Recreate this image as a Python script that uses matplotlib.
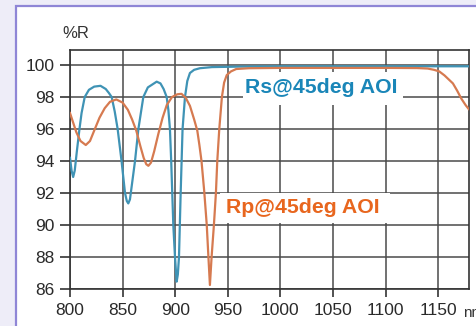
import matplotlib
matplotlib.use("Agg")
import matplotlib.pyplot as plt
from matplotlib.patches import Rectangle

plt.rcParams['font.family'] = ['Liberation Sans', 'DejaVu Sans']

# Rs @ 45 deg AOI (blue)
rs_nm = [800, 801.5, 803, 804.5, 806.5, 809, 811, 814, 818, 823, 829, 834, 837,
         839.6, 842.5, 845.3, 849, 852.3, 854, 855.4, 857, 859, 861.8, 865, 869.7,
         874, 882.4, 886, 889, 891.9, 893.5, 895, 896.2, 897.2, 898.2, 899.8,
         901.4, 902.5, 903.6, 905.2, 907, 909.3, 911.5, 914, 918, 923.5, 935, 960,
         1000, 1179]
rs_val = [94.2, 93.4, 93.0, 93.4, 94.6, 96.0, 97.0, 98.0, 98.45, 98.65, 98.7, 98.5,
          98.25, 98.0, 97.1, 96.0, 94.0, 92.0, 91.5, 91.35, 91.6, 92.6, 94.0, 96.0,
          98.0, 98.6, 98.96, 98.85, 98.5, 98.0, 97.2, 96.0, 94.0, 92.0, 90.0, 88.0,
          86.46, 86.9, 88.0, 92.0, 96.0, 98.0, 99.0, 99.5, 99.7, 99.8, 99.87, 99.9,
          99.92, 99.92]

# Rp @ 45 deg AOI (orange)
rp_nm = [800, 803, 806, 810, 815, 819, 823, 828, 833, 838, 844, 850, 855, 859,
         863, 867, 870, 872.5, 874.5, 877, 880, 884, 888, 892, 897, 902, 906, 910,
         914, 918, 921, 923, 925, 927.6, 930, 931.5, 933, 934.6, 936.8, 938.7, 940,
         941.9, 944.4, 946.5, 949, 953, 958, 970, 1000, 1100, 1130, 1140, 1146,
         1151, 1156, 1160, 1164, 1168, 1172, 1176, 1179]
rp_val = [97.0, 96.4, 95.8, 95.25, 95.0, 95.25, 95.9, 96.7, 97.3, 97.7, 97.85, 97.65,
          97.2, 96.6, 95.9, 94.9, 94.2, 93.8, 93.7, 93.9, 94.6, 95.7, 96.7, 97.5,
          98.0, 98.17, 98.2, 97.95, 97.45, 96.6, 95.9, 95.0, 94.0, 92.1, 90.0, 88.1,
          86.25, 88.0, 90.0, 92.0, 94.0, 96.0, 98.0, 98.9, 99.37, 99.6, 99.75, 99.8,
          99.82, 99.82, 99.81, 99.78, 99.7, 99.6, 99.35, 99.1, 98.85, 98.4, 97.9,
          97.5, 97.25]

x_ticks = [800, 850, 900, 950, 1000, 1050, 1100, 1150]
y_ticks = [86, 88, 90, 92, 94, 96, 98, 100]

W, H = 477, 326
fig = plt.figure(figsize=(W / 100, H / 100), dpi=100)
fig.patch.set_facecolor('#eeedf8')

# white panel with purple border
panel = Rectangle((16 / W, -0.05), 1.1, 1.05 - 6 / H, transform=fig.transFigure,
                  facecolor='white', edgecolor='#8f86d6', linewidth=1.6, zorder=-10)
fig.patches.append(panel)

ax = fig.add_axes([70 / W, 1 - 289 / H, (468.7 - 70) / W, (289 - 49.5) / H])
ax.set_zorder(5)
ax.set_facecolor('white')

ax.plot(rs_nm, rs_val, color='#3f93b5', lw=1.6, zorder=3)
ax.plot(rp_nm, rp_val, color='#d67a50', lw=1.6, zorder=3)

ax.set_xlim(800, 1179)
ax.set_ylim(86, 100.97)
ax.set_xticks(x_ticks)
ax.set_yticks(y_ticks)
ax.set_xticklabels([str(v) for v in x_ticks])
ax.set_yticklabels([str(v) for v in y_ticks])
ax.grid(True, color='#4a4a4a', lw=1.1, zorder=1)
ax.set_axisbelow(True)
for s in ax.spines.values():
    s.set_color('#333333')
    s.set_linewidth(1.2)
ax.tick_params(axis='both', direction='out', colors='#333333', labelcolor='#2a2a2a',
               labelsize=12.5, width=1.2)
ax.tick_params(axis='y', length=7, pad=4)
ax.tick_params(axis='x', length=6, pad=4)

# white label boxes (axes-fraction layout)
ax.add_patch(Rectangle((0.434, 0.768), 0.401, 0.138, transform=ax.transAxes,
                       facecolor='white', edgecolor='none', zorder=2))
ax.add_patch(Rectangle((0.376, 0.276), 0.427, 0.125, transform=ax.transAxes,
                       facecolor='white', edgecolor='none', zorder=2))

ax.text(1038.5, 98.62, 'Rs@45deg AOI', color='#1a86b8', fontsize=15.3, fontweight='bold',
        ha='center', va='center', zorder=5)
ax.text(1021.7, 91.12, 'Rp@45deg AOI', color='#e8661e', fontsize=15.3, fontweight='bold',
        ha='center', va='center', zorder=5)

fig.text(62 / W, 1 - 34 / H, '%R', color='#333333', fontsize=12, ha='left', va='center')
fig.text(463 / W, 1 - 313 / H, 'nm', color='#333333', fontsize=11, ha='left', va='center')

fig.savefig('out.png', dpi=100, facecolor=fig.get_facecolor())
